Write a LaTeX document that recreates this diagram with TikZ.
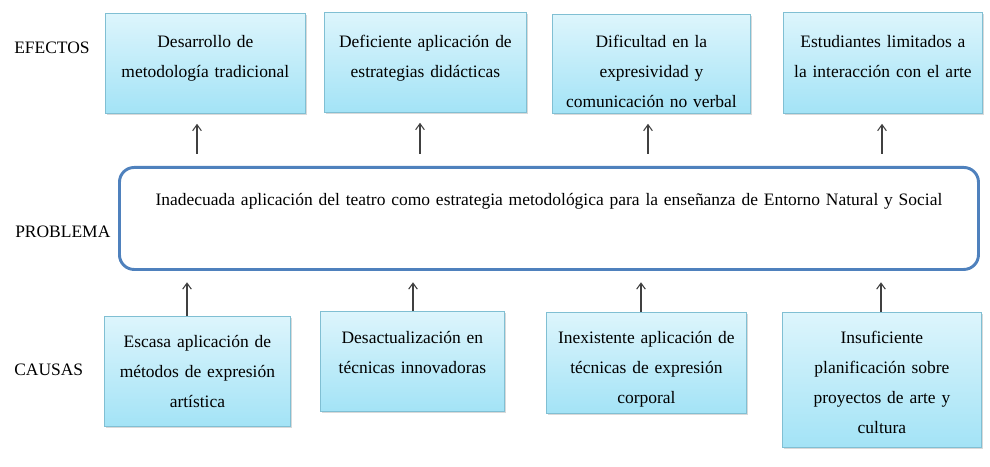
\documentclass[tikz,border=0pt]{standalone}
\usepackage{fontspec}
\setmainfont{Liberation Serif}
\usepackage{tikz}
\usetikzlibrary{arrows.meta,shadows}
\definecolor{cielo}{HTML}{DDF5FC}
\definecolor{celeste}{HTML}{A3E3F6}
\definecolor{borde}{HTML}{80BFD3}
\definecolor{azul}{HTML}{4F81BD}
\definecolor{flecha}{HTML}{404040}
\tikzset{caja/.style={draw=borde,line width=.6pt,top color=cielo,bottom color=celeste,drop shadow={shadow xshift=1.4pt,shadow yshift=-1.4pt,opacity=.3},anchor=north west,inner sep=0pt,align=center,font=\fontsize{13.1}{22.5}\selectfont},
  rotulo/.style={anchor=west,inner sep=0pt,font=\fontsize{13.1}{15}\selectfont},
  sube/.style={draw=flecha,line width=.8pt,-{Straight Barb[length=4.5pt,width=6.5pt]}}}
\newcommand{\caja}[7]{\node[caja,text width=#4*.75pt,text height=#6*.75pt,text depth=(#5-#6)*.75pt] (#1) at (#2,#3){#7};}

\begin{document}
\begin{tikzpicture}[x=.75pt,y=-.75pt]
\useasboundingbox (0,0) rectangle (990,467);
\node[rotulo] (efectos) at (14,48){EFECTOS};
\node[rotulo] (problema) at (15,232){PROBLEMA};
\node[rotulo] (causas) at (14,370){CAUSAS};
\caja{e1}{105}{13}{200}{100}{34}{Desarrollo de\\metodología tradicional}
\caja{e2}{324}{12}{202}{100}{35}{Deficiente aplicación de\\estrategias didácticas}
\caja{e3}{552}{14}{198}{99}{33}{Dificultad en la\\expresividad y\\comunicación no verbal}
\caja{e4}{783}{12}{199}{101}{35}{Estudiantes limitados a\\la interacción con el arte}
\node[draw=azul,line width=2.2pt,rounded corners=11pt,fill=white,anchor=north west,inner sep=0pt,text width=859*.75pt,text height=28.5pt,text depth=(102-38)*.75pt,align=center,font=\fontsize{13.1}{22.5}\selectfont] (prob) at (118,166){Inadecuada aplicación del teatro como estrategia metodológica para la enseñanza de Entorno Natural y Social};
\caja{c1}{104}{316}{186}{110}{31}{Escasa aplicación de\\métodos de expresión\\artística}
\caja{c2}{320}{311}{184}{100}{32}{Desactualización en\\técnicas innovadoras}
\caja{c3}{546}{312}{200}{101}{31}{Inexistente aplicación de\\técnicas de expresión\\corporal}
\caja{c4}{782}{312}{199}{135}{31}{Insuficiente\\planificación sobre\\proyectos de arte y\\cultura}
\foreach \n/\x in {1/197,2/420,3/648,4/882}{\coordinate (f\n) at (\x,0);
  \draw[sube,shorten <=9pt,shorten >=7.5pt] (f\n |- prob.north) -- (f\n |- e\n.south);}
\foreach \n/\x in {1/187,2/413,3/641,4/881}{\coordinate (k\n) at (\x,0);
  \draw[sube,shorten >=8.5pt] (k\n |- c\n.north) -- (k\n |- prob.south);}
\end{tikzpicture}
\end{document}
